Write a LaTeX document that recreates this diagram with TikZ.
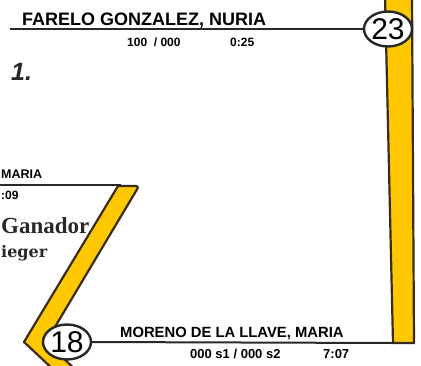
\documentclass[tikz,border=0pt]{standalone}
\usepackage{fontspec}
\setmainfont{Liberation Sans}
\newfontfamily\serifbold{Liberation Serif}
\newfontfamily\serifwide{DejaVu Serif}
\usepackage{tikz}
\usetikzlibrary{shapes.geometric}
\definecolor{trackyellow}{RGB}{255,200,0}
\definecolor{trackedge}{RGB}{58,44,20}
\definecolor{inkgray}{RGB}{40,40,40}
\tikzset{
    seednode/.style={ellipse,draw=inkgray,line width=2.4pt,fill=white,inner sep=0pt,
      minimum width=48pt,minimum height=35pt,font=\fontsize{30}{30}\selectfont},
    trackbar/.style={fill=trackyellow,draw=trackedge,line width=2.2pt,line join=round},
    ruleline/.style={draw=inkgray,line width=2pt},
    playername/.style={inner sep=0pt,font=\bfseries\fontsize{18}{18}\selectfont},
    scoretext/.style={inner sep=0pt,font=\bfseries\fontsize{12}{12}\selectfont}}

\begin{document}
\begin{tikzpicture}[x=1pt,y=-1pt]
            \useasboundingbox (0,0) rectangle (421,365);
            \clip (0,0) rectangle (421,365);
            % yellow tracks
            \draw [trackbar] (385,-5) -- (412,-5) -- (414,343) -- (393,343) -- cycle;
            \draw [trackbar] (118,186) -- (136,186) [rounded corners=3pt] -- (139,186) [sharp corners] -- (46,342) -- (78,372) -- (56,372) -- (24,342) -- cycle;
            % seeds
            \node [seednode] (s23) at (388,29) {23};
            \node [seednode] (s18) at (67,342) {18};
            \coordinate (topend) at (10,29);
            \coordinate (midend) at (-2,185);
            \coordinate (midcorner) at (121,185);
            \coordinate (botend) at (393,343);
            \draw [ruleline] (s23.west) -- (topend);
            \draw [ruleline] (midend) -- (midcorner);
            \draw [ruleline] (s18.east) -- (botend);
            % top player
            \node [playername,anchor=base west] (topname) at (22,25) {FARELO GONZALEZ, NURIA};
            \node [scoretext,anchor=base west] (topscore) at (127,46) {100~~/ 000};
            \node [scoretext,anchor=base west] (toptime) at (230,46) {0:25};
            \node [inner sep=0pt,anchor=base west,text=inkgray,font=\bfseries\itshape\fontsize{25}{25}\selectfont] (place) at (11,80) {1.};
            % middle player
            \node [inner sep=0pt,anchor=base west,font=\bfseries\fontsize{12.5}{12.5}\selectfont] (midname) at (1,178) {MARIA};
            \node [scoretext,anchor=base west] (midtime) at (1,199) {:09};
            \node [inner sep=0pt,anchor=base west,text=inkgray,font=\serifbold\bfseries\fontsize{23}{23}\selectfont] (winner) at (1,233) {Ganador};
            \node [inner sep=0pt,anchor=base west,text=inkgray,font=\serifwide\bfseries\fontsize{16}{16}\selectfont] (sieger) at (1,257) {ieger};
            % bottom player
            \node [inner sep=0pt,anchor=base west,font=\bfseries\fontsize{14.8}{14.8}\selectfont] (botname) at (120,337) {MORENO DE LA LLAVE, MARIA};
            \node [scoretext,anchor=base west,font=\bfseries\fontsize{13}{13}\selectfont] (botscore) at (190,358) {000 s1 / 000 s2};
            \node [scoretext,anchor=base west,font=\bfseries\fontsize{13}{13}\selectfont] (bottime) at (323,358) {7:07};
\end{tikzpicture}
\end{document}
